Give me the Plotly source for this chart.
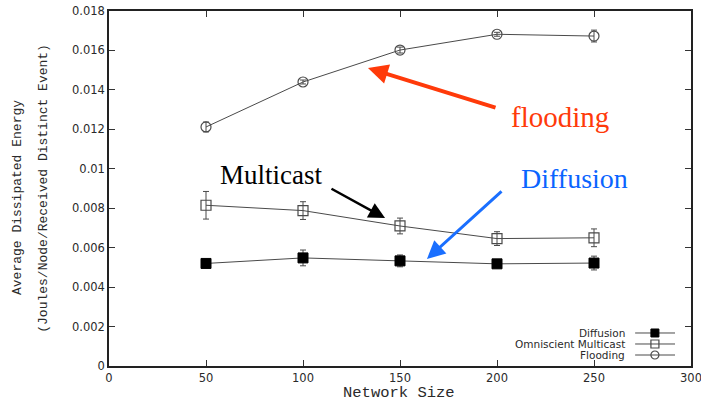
import plotly.graph_objects as go

# Network sizes simulated
network_size = [50, 100, 150, 200, 250]

# Average dissipated energy (Joules/Node/Received Distinct Event)
diffusion = [0.00520, 0.00548, 0.00533, 0.00518, 0.00522]
diffusion_err = [0.00012, 0.00040, 0.00030, 0.00012, 0.00035]

multicast = [0.00815, 0.00788, 0.00710, 0.00646, 0.00650]
multicast_err = [0.00070, 0.00045, 0.00040, 0.00035, 0.00045]

flooding = [0.01212, 0.01440, 0.01602, 0.01682, 0.01673]
flooding_err = [0.00025, 0.00010, 0.00015, 0.00010, 0.00030]

series_names = ["Diffusion", "Omniscient Multicast", "Flooding"]

x_ticks = [0, 50, 100, 150, 200, 250, 300]
y_ticks = [0, 0.002, 0.004, 0.006, 0.008, 0.01, 0.012, 0.014, 0.016, 0.018]
y_tick_text = ["0", "0.002", "0.004", "0.006", "0.008", "0.01", "0.012",
               "0.014", "0.016", "0.018"]

INK = "#2a2a2a"
LINE = "#4a4a4a"

fig = go.Figure()

styles = [
    (diffusion, diffusion_err, dict(symbol="square", size=10, color="black",
                                    line=dict(color="black", width=1))),
    (multicast, multicast_err, dict(symbol="square-open", size=10, color=LINE,
                                    line=dict(color=LINE, width=1.2))),
    (flooding, flooding_err, dict(symbol="circle-open", size=10, color=LINE,
                                  line=dict(color=LINE, width=1.2))),
]

for name, (vals, errs, marker) in zip(series_names, styles):
    fig.add_trace(go.Scatter(
        x=network_size, y=vals, name=name, mode="lines+markers",
        line=dict(color=LINE, width=1), marker=marker,
        error_y=dict(type="data", array=errs, visible=True,
                     color=LINE, thickness=1, width=3),
        showlegend=False,
    ))

# Legend block (label on the left, line + marker sample on the right)
legend_y = [0.093, 0.062, 0.031]
for name, (_, _, marker), ly in zip(series_names, styles, legend_y):
    fig.add_trace(go.Scatter(
        x=[0.904, 0.938, 0.9725], y=[ly, ly, ly], xaxis="x2", yaxis="y2",
        mode="lines", line=dict(color=LINE, width=1),
        showlegend=False, hoverinfo="skip",
    ))
    fig.add_trace(go.Scatter(
        x=[0.938], y=[ly], xaxis="x2", yaxis="y2", mode="markers",
        marker=dict(marker, size=8), showlegend=False, hoverinfo="skip",
    ))
    fig.add_annotation(
        x=0.890, y=ly, xref="paper", yref="paper", text=name,
        showarrow=False, xanchor="right", yanchor="middle",
        font=dict(family="DejaVu Sans", size=10.5, color=INK),
    )

axis_common = dict(
    showline=True, linecolor="#222", linewidth=1.5, mirror="ticks",
    ticks="inside", ticklen=6, tickwidth=1, tickcolor="#333",
    showgrid=False, zeroline=False, automargin=False,
    ticklabeloverflow="allow",
    tickfont=dict(family="DejaVu Sans", size=11.5, color=INK),
)

fig.update_layout(
    width=701, height=405,
    margin=dict(l=109, r=10, t=11, b=39, autoexpand=False),
    paper_bgcolor="white", plot_bgcolor="white",
    xaxis=dict(axis_common, range=[0, 300], tickvals=x_ticks),
    yaxis=dict(axis_common, range=[0, 0.018], tickvals=y_ticks,
               ticktext=y_tick_text),
    xaxis2=dict(overlaying="x", range=[0, 1], visible=False),
    yaxis2=dict(overlaying="y", range=[0, 1], visible=False),
)

# Axis titles in typewriter style
mono = dict(family="Liberation Mono", color=INK)
fig.add_annotation(x=0.499, y=-0.076, xref="paper", yref="paper",
                   text="Network Size", showarrow=False, yanchor="middle",
                   font=dict(mono, size=15.5))
fig.add_annotation(x=-0.157, y=0.475, xref="paper", yref="paper",
                   text="Average Dissipated Energy", showarrow=False,
                   xanchor="center", yanchor="middle",
                   textangle=-90, font=dict(mono, size=13))
fig.add_annotation(x=-0.113, y=0.500, xref="paper", yref="paper",
                   text="(Joules/Node/Received Distinct Event)",
                   xanchor="center", yanchor="middle",
                   showarrow=False, textangle=-90, font=dict(mono, size=13))

# Callout labels with arrows pointing at each curve
serif = "Liberation Serif"
fig.add_annotation(x=232.5, y=0.01263, text="flooding", showarrow=False,
                   font=dict(family=serif, size=29, color="#ff3a0a"))
fig.add_annotation(x=133.5, y=0.01511, ax=200, ay=0.01308,
                   axref="x", ayref="y", showarrow=True, arrowhead=2,
                   arrowsize=1, arrowwidth=4, arrowcolor="#ff3a0a", text="")

fig.add_annotation(x=83.5, y=0.00968, text="Multicast", showarrow=False,
                   font=dict(family=serif, size=27, color="black"))
fig.add_annotation(x=142.3, y=0.0075, ax=113.9, ay=0.00903,
                   axref="x", ayref="y", showarrow=True, arrowhead=2,
                   arrowsize=1.3, arrowwidth=2.5, arrowcolor="black", text="")

fig.add_annotation(x=239.7, y=0.00953, text="Diffusion", showarrow=False,
                   font=dict(family=serif, size=28, color="#0a64ff"))
fig.add_annotation(x=163.9, y=0.00543, ax=203.1, ay=0.00892,
                   axref="x", ayref="y", showarrow=True, arrowhead=2,
                   arrowsize=1.2, arrowwidth=3, arrowcolor="#1a6fff", text="")

fig.write_html("out.html")
